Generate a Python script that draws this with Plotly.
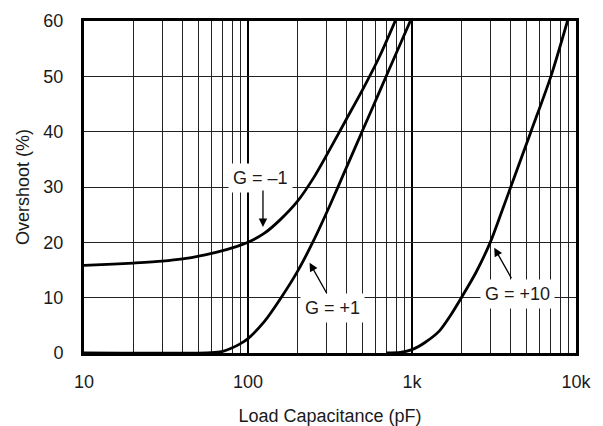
import plotly.graph_objects as go

# Load capacitance (pF) and overshoot (%)
c_gm1 = [10, 15, 20, 30, 40, 50, 60, 70, 80, 90, 100, 126, 158, 200, 251, 316, 398, 501, 631, 794]
v_gm1 = [15.85, 16.05, 16.25, 16.6, 17.0, 17.5, 18.0, 18.5, 19.0, 19.5, 20.0, 21.65, 24.15, 27.4, 31.65, 36.85, 42.25, 47.65, 53.45, 60.15]

c_gp1 = [10, 56, 63, 71, 79, 89, 100, 126, 158, 200, 251, 316, 398, 501, 631, 794, 977]
v_gp1 = [0, 0, 0.1, 0.35, 0.85, 1.6, 2.6, 5.7, 9.85, 14.7, 20.3, 26.7, 33.5, 40.3, 47.1, 53.9, 60.0]

c_gp10 = [700, 850, 1000, 1200, 1470, 1700, 2000, 2450, 3000, 3500, 4000, 5310, 7030, 8870]
v_gp10 = [0, 0.1, 0.6, 1.9, 4.0, 6.6, 10.0, 14.5, 20.0, 25.3, 30.0, 40.0, 50.0, 60.0]

x_tickvals = [10, 100, 1000, 10000]
x_ticktext = ["10", "100", "1k", "10k"]
x_minor = [m * d for d in (10, 100, 1000) for m in range(2, 10)]
y_tickvals = [0, 10, 20, 30, 40, 50, 60]

FONT = "Liberation Sans, Arial, sans-serif"
TXT = "#1a1a1a"

fig = go.Figure()
for cx, vy, name in [(c_gm1, v_gm1, "G = –1"), (c_gp1, v_gp1, "G = +1"), (c_gp10, v_gp10, "G = +10")]:
    fig.add_trace(go.Scatter(x=cx, y=vy, mode="lines", name=name,
                             line=dict(color="black", width=2.8, shape="spline", smoothing=0.8),
                             showlegend=False, hoverinfo="skip"))

# curve labels (white boxes hide the grid)
labels = [("G = –1", 2.074, 31.7), ("G = +1", 2.5125, 8.2), ("G = +10", 3.643, 10.6)]
for t, lx, ly in labels:
    fig.add_annotation(x=lx, y=ly, xref="x", yref="y", text=t, showarrow=False,
                       font=dict(family=FONT, size=18, color=TXT), bgcolor="white", borderpad=4)

# arrows
arrows = [(2.0913, 22.77, 0, -38), (2.3755, 16.32, 18, 32), (3.5015, 19.03, 18, 32)]
for ax_, ay_, dx, dy in arrows:
    fig.add_annotation(x=ax_, y=ay_, xref="x", yref="y", text="", showarrow=True,
                       ax=dx, ay=dy, arrowhead=2, arrowsize=1.3, arrowwidth=1.3, arrowcolor="black")

fig.update_xaxes(type="log", range=[1, 4], tickvals=x_tickvals, ticktext=x_ticktext,
                 showgrid=True, gridcolor="black", gridwidth=2,
                 minor=dict(tickvals=x_minor, showgrid=True, gridcolor="#222", gridwidth=1, ticks=""),
                 showline=True, linecolor="black", linewidth=3, mirror=True, ticks="",
                 ticklabelstandoff=10, zeroline=False, automargin=False,
                 tickfont=dict(family=FONT, size=18, color=TXT),
                 title=dict(text="Load Capacitance (pF)", font=dict(family=FONT, size=18, color=TXT), standoff=20))
fig.update_yaxes(range=[0, 60], tickvals=y_tickvals, showgrid=True, gridcolor="#222", gridwidth=1,
                 showline=True, linecolor="black", linewidth=3, mirror=True, ticks="",
                 ticklabelstandoff=14, zeroline=False, automargin=False,
                 tickfont=dict(family=FONT, size=18, color=TXT),
                 title=dict(text="Overshoot (%)", font=dict(family=FONT, size=18, color=TXT), standoff=10))

fig.update_layout(width=603, height=426, margin=dict(l=84, r=27, t=21, b=73),
                  plot_bgcolor="white", paper_bgcolor="white")

fig.write_html("out.html", config={"displayModeBar": False},
               post_script="document.body.style.margin='0';document.body.style.overflow='hidden';")
